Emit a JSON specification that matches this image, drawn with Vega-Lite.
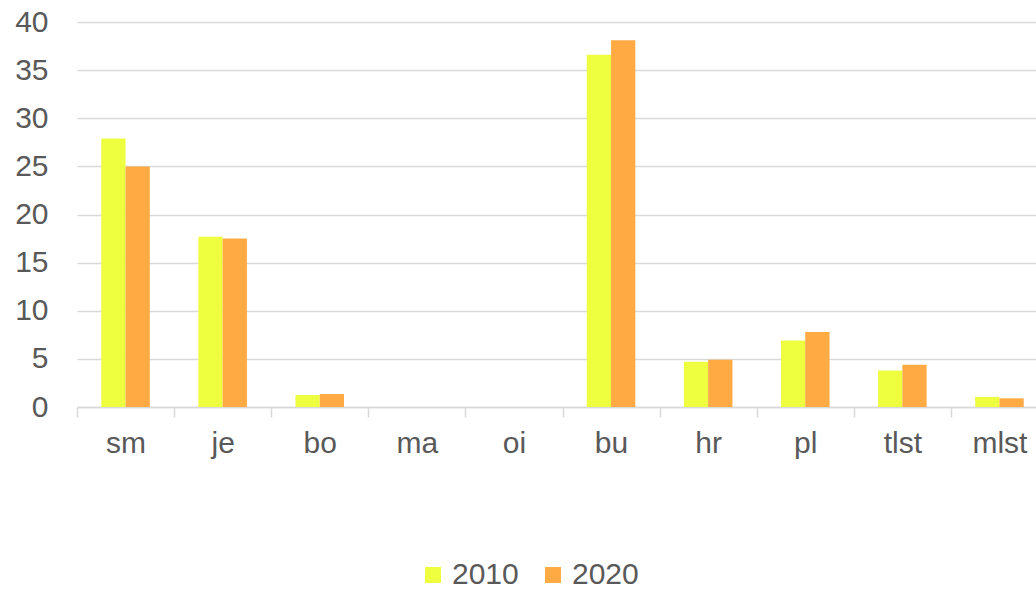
{
  "$schema": "https://vega.github.io/schema/vega-lite/v6.json",
  "autosize": {"type": "none"},
  "width": 971,
  "height": 385,
  "padding": {"left": 77, "top": 22, "right": 0, "bottom": 183},
  "background": "white",
  "config": {
    "view": {"stroke": null},
    "font": "Liberation Sans",
    "axis": {"labelFont": "Liberation Sans", "labelColor": "#595959"},
    "legend": {"labelFont": "Liberation Sans", "labelColor": "#595959"}
  },
  "data": {
    "values": [
      {"cat": "sm", "year": "2010", "v": 27.9},
      {"cat": "sm", "year": "2020", "v": 25.0},
      {"cat": "je", "year": "2010", "v": 17.7},
      {"cat": "je", "year": "2020", "v": 17.5},
      {"cat": "bo", "year": "2010", "v": 1.25},
      {"cat": "bo", "year": "2020", "v": 1.35},
      {"cat": "ma", "year": "2010", "v": 0},
      {"cat": "ma", "year": "2020", "v": 0},
      {"cat": "oi", "year": "2010", "v": 0},
      {"cat": "oi", "year": "2020", "v": 0},
      {"cat": "bu", "year": "2010", "v": 36.6},
      {"cat": "bu", "year": "2020", "v": 38.1},
      {"cat": "hr", "year": "2010", "v": 4.7},
      {"cat": "hr", "year": "2020", "v": 4.9},
      {"cat": "pl", "year": "2010", "v": 6.9},
      {"cat": "pl", "year": "2020", "v": 7.8},
      {"cat": "tlst", "year": "2010", "v": 3.8},
      {"cat": "tlst", "year": "2020", "v": 4.4},
      {"cat": "mlst", "year": "2010", "v": 1.05},
      {"cat": "mlst", "year": "2020", "v": 0.9}
    ]
  },
  "mark": {"type": "bar"},
  "encoding": {
    "x": {
      "field": "cat",
      "type": "nominal",
      "sort": null,
      "scale": {"paddingInner": 0, "paddingOuter": 0},
      "axis": {
        "title": null,
        "labelAngle": 0,
        "labelFontSize": 30,
        "labelPadding": 11,
        "tickBand": "extent",
        "tickSize": 10,
        "tickColor": "#d9d9d9",
        "tickWidth": 1.5,
        "domainColor": "#d9d9d9",
        "domainWidth": 1.5,
        "grid": false
      }
    },
    "xOffset": {"field": "year", "type": "nominal", "scale": {"paddingInner": 0, "paddingOuter": 1.11}},
    "y": {
      "field": "v",
      "type": "quantitative",
      "scale": {"domain": [0, 40], "nice": false},
      "axis": {
        "title": null,
        "values": [0, 5, 10, 15, 20, 25, 30, 35, 40],
        "labelFontSize": 30,
        "labelPadding": 29,
        "ticks": false,
        "domain": false,
        "grid": true,
        "gridColor": "#d9d9d9",
        "gridWidth": 1.5
      }
    },
    "color": {
      "field": "year",
      "type": "nominal",
      "scale": {"domain": ["2010", "2020"], "range": ["#EDFF3F", "#FFAA42"]},
      "legend": {
        "title": null,
        "orient": "none",
        "direction": "horizontal",
        "legendX": 341,
        "legendY": 538,
        "symbolType": "square",
        "symbolSize": 256,
        "symbolStrokeWidth": 0,
        "labelFontSize": 30,
        "labelOffset": 4,
        "columnPadding": 19
      }
    }
  }
}
